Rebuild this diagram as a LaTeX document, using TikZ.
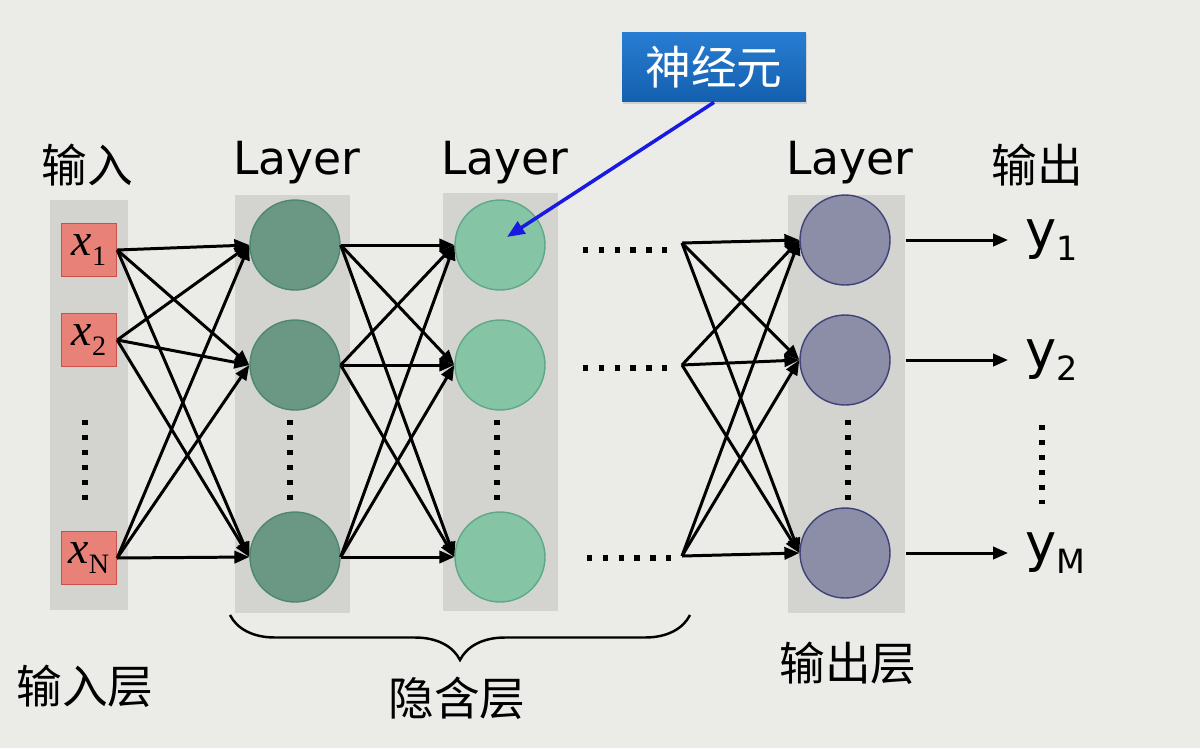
\documentclass[tikz,border=0pt]{standalone}
\usepackage{fontspec}
\setmainfont{DejaVu Sans}
\newfontfamily\cjkfont{Noto Sans CJK SC}
\newfontfamily\serifxfont{Liberation Serif}
\usepackage{tikz}
\usetikzlibrary{arrows.meta, positioning, shadows, decorations.pathreplacing}
\definecolor{slidebg}{RGB}{235,235,232}
\definecolor{bandgray}{RGB}{211,211,208}
\definecolor{inred}{RGB}{232,130,120}
\definecolor{inredline}{RGB}{205,80,75}
\definecolor{hidA}{RGB}{106,152,132}
\definecolor{hidAline}{RGB}{78,135,112}
\definecolor{hidB}{RGB}{134,196,166}
\definecolor{hidBline}{RGB}{95,168,135}
\definecolor{outC}{RGB}{140,142,167}
\definecolor{outCline}{RGB}{62,66,120}
\definecolor{tagtop}{RGB}{40,125,210}
\definecolor{tagbot}{RGB}{20,95,175}
\definecolor{pointer}{RGB}{25,25,225}

\newcommand{\xin}[1]{{\serifxfont\fontsize{26}{26}\selectfont\itshape x\raisebox{-6pt}{\upshape\fontsize{16}{16}\selectfont #1}}}
\newcommand{\yout}[1]{y\raisebox{-7pt}{\fontsize{19}{19}\selectfont #1}}

\tikzset{
	band/.style={fill=bandgray, draw=none},
	inbox/.style={draw=inredline, fill=inred, line width=0.8pt, minimum width=1.1cm, minimum height=1.06cm, inner sep=0pt},
	neuron/.style={circle, minimum size=1.8cm, inner sep=0pt, line width=0.8pt},
	conn/.style={line width=1.7pt, -{Triangle[length=8.5pt,width=7pt]}},
	cjk/.style={font=\cjkfont\fontsize{26}{30}\selectfont},
	layertext/.style={font=\fontsize{26}{30}\selectfont},
	outlabel/.style={font=\fontsize{30}{34}\selectfont, inner sep=0pt, inner xsep=0.34cm, anchor=west},
	vdots/.style={line width=3pt, dash pattern=on 3pt off 5.5pt},
	tag/.style={top color=tagtop, bottom color=tagbot, draw=none, minimum width=3.68cm, minimum height=1.4cm, text=white, drop shadow={opacity=0.25, shadow xshift=0.5pt, shadow yshift=-1pt}},
	brace/.style={decorate, decoration={brace, amplitude=0.9cm}, line width=1.4pt}
}

\begin{document}
\begin{tikzpicture}[x=0.02cm, y=-0.02cm]
	\fill[slidebg] (0,0) rectangle (1200,748);
	\useasboundingbox (0,0) rectangle (1200,748);

	% grey columns
	\fill[band] (50,200) rectangle (128,610);
	\fill[band] (235,195) rectangle (350,613);
	\fill[band] (443,193) rectangle (558,611);
	\fill[band] (788,195) rectangle (905,613);

	% input layer
	\node[inbox] (x1) at (89,250) {\xin{1}};
	\node[inbox] (x2) at (89,340) {\xin{2}};
	\node[inbox] (x3) at (89,558) {\xin{N}};
	\draw[vdots] (85,420) -- (85,502);

	% hidden layers
	\foreach \i/\yy in {1/245, 2/365, 3/557} {
		\node[neuron, fill=hidA, draw=hidAline] (a\i) at (295,\yy) {};
		\node[neuron, fill=hidB, draw=hidBline] (b\i) at (500,\yy) {};
	}
	\draw[vdots] (290,420) -- (290,502);
	\draw[vdots] (497,420) -- (497,502);

	% output layer
	\node[neuron, fill=outC, draw=outCline] (o1) at (845,240) {};
	\node[neuron, fill=outC, draw=outCline] (o2) at (845,360) {};
	\node[neuron, fill=outC, draw=outCline] (o3) at (845,553) {};
	\draw[vdots] (848,420) -- (848,500);

	% skipped layers
	\coordinate (h1) at (682,243);
	\coordinate (h2) at (682,365);
	\coordinate (h3) at (682,556);
	\draw[vdots, dash pattern=on 3pt off 6pt] (583,250) -- (668,250);
	\draw[vdots, dash pattern=on 3pt off 6pt] (583,368) -- (668,368);
	\draw[vdots, dash pattern=on 3pt off 6pt] (587,558) -- (672,558);

	% connections
	\foreach \s in {1,2,3} {
		\foreach \t in {1,2,3} {
			\draw[conn] (x\s.east) -- (a\t.west);
			\draw[conn] (a\s.east) -- (b\t.west);
			\draw[conn] (h\s) -- (o\t.west);
		}
	}

	% outputs
	\node[outlabel] (y1) at (1008,240) {\yout{1}};
	\node[outlabel] (y2) at (1008,360) {\yout{2}};
	\node[outlabel] (y3) at (1008,553) {\yout{M}};
	\foreach \i in {1,2,3}
		\draw[conn] ([xshift=0.3cm]o\i.east) -- (o\i.east -| y\i.west);
	\draw[vdots] (1042,425) -- (1042,504);

	% headings
	\node[cjk] (inhead) at (87,165) {输入};
	\node[layertext] (la) at (297,163) {Layer};
	\node[layertext] (lb) at (505,163) {Layer};
	\node[layertext] (lo) at (850,163) {Layer};
	\node[cjk] (outhead) at (1037,165) {输出};

	% bottom labels
	\coordinate (braceL) at (230,615);
	\coordinate (braceR) at (690,615);
	\draw[brace] (braceR) -- (braceL);
	\node[cjk] (inlayer) at (85,686) {输入层};
	\node[cjk] (hidlayer) at (457,698) {隐含层};
	\node[cjk] (outlayer) at (848,663) {输出层};

	% neuron tag
	\node[tag, cjk] (tag) at (714,67) {神经元};
	\draw[pointer, line width=2pt, -{Triangle[length=10pt,width=8pt]}] (tag.south) -- ([shift={(0.14cm,0.16cm)}]b1.center);
\end{tikzpicture}
\end{document}
